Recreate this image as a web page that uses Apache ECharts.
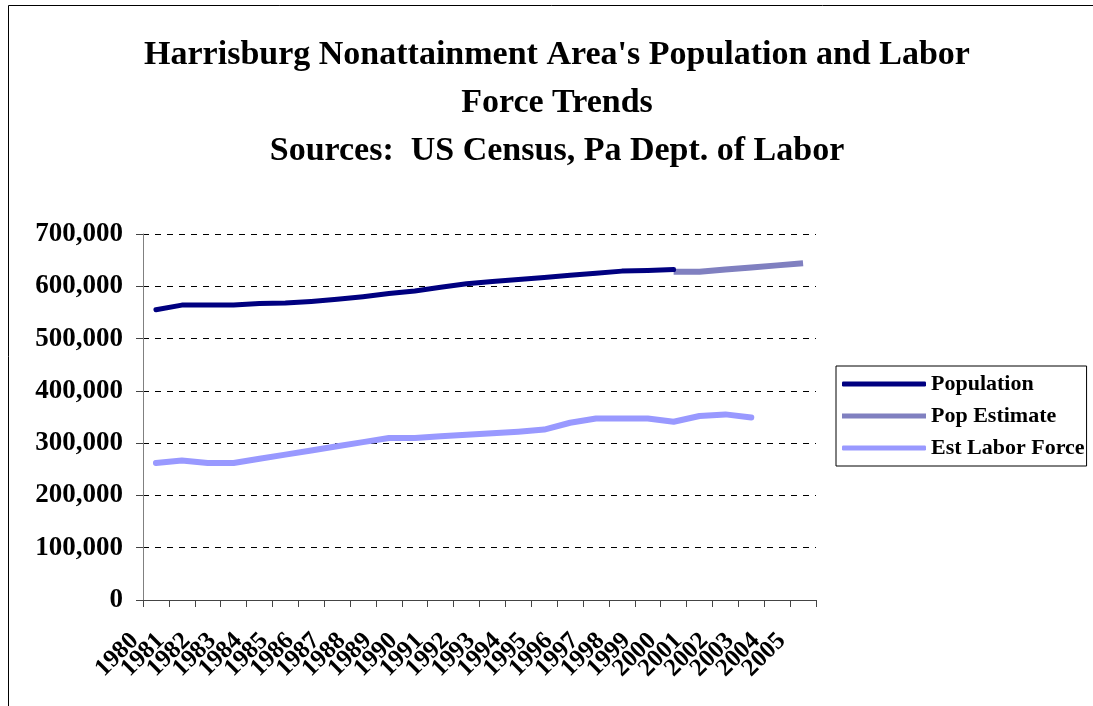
<!DOCTYPE html>
<html>
<head>
<meta charset="utf-8">
<script src="https://cdn.jsdelivr.net/npm/echarts@6/dist/echarts.min.js"></script>
<style>
  html, body { margin: 0; padding: 0; background: #fff; }
  #chart { width: 1093px; height: 706px; }
</style>
</head>
<body>
<div id="chart"></div>
<script>
const years = ['1980', '1981', '1982', '1983', '1984', '1985', '1986', '1987', '1988', '1989',
  '1990', '1991', '1992', '1993', '1994', '1995', '1996', '1997', '1998', '1999',
  '2000', '2001', '2002', '2003', '2004', '2005']

// 1980 - 2000
const population = [555000, 564000, 564000, 564000, 567000, 568000, 571000, 575000, 580000, 586000,
  591000, 598000, 605000, 609000, 613000, 617000, 621000, 625000, 629000, 630000, 632000]

// 2000 - 2005
const popEstimate = [null, null, null, null, null, null, null, null, null, null,
  null, null, null, null, null, null, null, null, null, null,
  628000, 628000, 632000, 636000, 640000, 644000]

// 1980 - 2003
const laborForce = [262000, 267000, 262000, 262000, 270000, 278000, 286000, 294000, 302000, 310000,
  310000, 313000, 316000, 319000, 322000, 326000, 339000, 347000, 347000, 347000,
  341000, 352000, 355000, 349000]

const yTicks = [0, 100000, 200000, 300000, 400000, 500000, 600000, 700000]

const serif = '"Liberation Serif", "Times New Roman", serif'

const chart = echarts.init(document.getElementById('chart'))

chart.setOption({
  animation: false,
  backgroundColor: '#fff',
  title: {
    text: "Harrisburg Nonattainment Area's Population and Labor\nForce Trends\nSources:  US Census, Pa Dept. of Labor",
    left: 552,
    top: 26,
    textAlign: 'center',
    textStyle: {
      fontFamily: serif,
      fontWeight: 'bold',
      fontSize: 34,
      lineHeight: 48,
      color: '#000'
    }
  },
  // 外框
  graphic: [{
    type: 'rect',
    shape: { x: 8.5, y: 5.5, width: 1100, height: 720 },
    style: { fill: 'none', stroke: '#000', lineWidth: 1 },
    silent: true
  }],
  grid: {
    left: 143,
    right: 277,
    top: 234,
    bottom: 106
  },
  legend: {
    orient: 'vertical',
    left: 836,
    top: 366,
    itemWidth: 84,
    itemHeight: 5,
    itemGap: 10,
    padding: [7, 2, 7, 6],
    borderColor: '#000',
    borderWidth: 1,
    backgroundColor: '#fff',
    textStyle: {
      fontFamily: serif,
      fontWeight: 'bold',
      fontSize: 22,
      color: '#000',
      padding: [0, 0, 0, 0]
    },
    data: [
      { name: 'Population', icon: 'roundRect' },
      { name: 'Pop Estimate', icon: 'rect' },
      { name: 'Est Labor Force', icon: 'roundRect' }
    ]
  },
  xAxis: {
    type: 'category',
    data: years,
    boundaryGap: true,
    axisLine: { lineStyle: { color: '#444', width: 1 } },
    axisTick: { show: true, length: 7, lineStyle: { color: '#444' } },
    axisLabel: {
      interval: 0,
      rotate: 45,
      margin: 16,
      padding: [0, 30, 0, 0],
      fontFamily: serif,
      fontWeight: 'bold',
      fontSize: 25,
      color: '#000'
    },
    splitLine: { show: false }
  },
  yAxis: {
    type: 'value',
    min: 0,
    max: 700000,
    interval: 100000,
    axisLine: { show: true, lineStyle: { color: '#808080', width: 1 } },
    axisTick: { show: true, length: 7, inside: false, lineStyle: { color: '#444' } },
    axisLabel: {
      margin: 20,
      fontFamily: serif,
      fontWeight: 'bold',
      fontSize: 27,
      color: '#000',
      formatter: v => yTicks.includes(v) ? v.toLocaleString('en-US') : ''
    },
    splitLine: {
      show: true,
      lineStyle: { color: '#000', type: [6, 6], width: 1 }
    }
  },
  series: [{
    name: 'Population',
    type: 'line',
    data: population,
    showSymbol: false,
    symbol: 'none',
    itemStyle: { color: '#000080' },
    lineStyle: { color: '#000080', width: 5, cap: 'round', join: 'round' },
    z: 3
  }, {
    name: 'Pop Estimate',
    type: 'line',
    data: popEstimate,
    showSymbol: false,
    symbol: 'none',
    itemStyle: { color: '#8080c0' },
    lineStyle: { color: '#8080c0', width: 6, cap: 'butt', join: 'round' },
    z: 2
  }, {
    name: 'Est Labor Force',
    type: 'line',
    data: laborForce,
    showSymbol: false,
    symbol: 'none',
    itemStyle: { color: '#9999ff' },
    lineStyle: { color: '#9999ff', width: 6, cap: 'round', join: 'round' },
    z: 2
  }]
})
</script>
</body>
</html>
